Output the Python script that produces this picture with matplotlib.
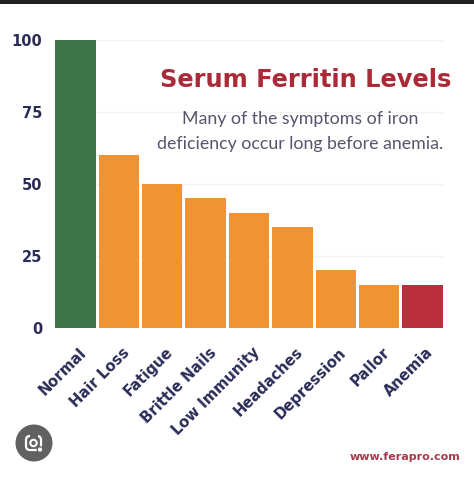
import matplotlib
matplotlib.use("Agg")
import matplotlib.pyplot as plt
from matplotlib.patches import Rectangle, Circle, FancyBboxPatch
from matplotlib.transforms import ScaledTranslation

categories = ["Normal", "Hair Loss", "Fatigue", "Brittle Nails", "Low Immunity",
              "Headaches", "Depression", "Pallor", "Anemia"]
values = [100, 60, 50, 45, 40, 35, 20, 15, 15]
colors = ["#3d7549", "#ef9333", "#ef9333", "#ef9333", "#ef9333",
          "#ef9333", "#ef9333", "#ef9333", "#bb2f3d"]
yticks = [0, 25, 50, 75, 100]
W, H = 474, 478
NAVY = "#2a2c58"

plt.rcParams["font.family"] = ["Lato", "DejaVu Sans"]
fig = plt.figure(figsize=(W / 100, H / 100), dpi=100, facecolor="white")
ax = fig.add_axes([55 / W, 1 - 328 / H, 388 / W, 288 / H])
ax.set_xlim(-0.47, 8.47)
ax.set_ylim(0, 100)
ax.set_axisbelow(True)
ax.yaxis.grid(True, color="#f3f3f5", linewidth=1)
ax.xaxis.grid(False)
for s in ax.spines.values():
    s.set_visible(False)
ax.bar(range(len(values)), values, width=0.93, color=colors)
ax.set_yticks(yticks)
ax.set_yticklabels([str(v) for v in yticks], fontsize=10.5, fontweight="bold",
                   color=NAVY, family="DejaVu Sans")
ax.set_xticks(range(len(categories)))
ax.set_xticklabels(categories, rotation=45, ha="right", rotation_mode="anchor",
                   fontsize=10.6, fontweight="bold", color=NAVY, family="DejaVu Sans")
ax.tick_params(axis="both", length=0)
ax.tick_params(axis="y", pad=9)
ax.tick_params(axis="x", pad=12)
shift = ScaledTranslation(3 / 100, 0, fig.dpi_scale_trans)
for lab in ax.get_xticklabels():
    lab.set_transform(lab.get_transform() + shift)

fig.text(305.5 / W, 1 - 80 / H, "Serum Ferritin Levels", fontsize=17.4, fontweight="bold",
         color="#aa2a38", ha="center", va="center", family="DejaVu Sans")
fig.text(300 / W, 1 - 119 / H, "Many of the symptoms of iron", fontsize=12.8,
         color="#55566e", ha="center", va="center")
fig.text(300 / W, 1 - 144 / H, "deficiency occur long before anemia.", fontsize=12.8,
         color="#55566e", ha="center", va="center")
fig.text(460 / W, 1 - 457 / H, "www.ferapro.com", fontsize=8, fontweight="bold",
         color="#a83a4c", ha="right", va="center", family="DejaVu Sans")

ov = fig.add_axes([0, 0, 1, 1], facecolor="none")
ov.set_xlim(0, W)
ov.set_ylim(H, 0)
ov.axis("off")
ov.add_patch(Rectangle((0, 0), W, 4, color="#222222", lw=0))
ov.add_patch(Circle((34, 443), 18.5, color="#616161", lw=0))
ov.add_patch(FancyBboxPatch((26, 436), 15, 14, boxstyle="round,pad=0,rounding_size=4",
                            fc="none", ec="white", lw=1.6))
ov.add_patch(Rectangle((30, 433), 8, 5, color="#616161", lw=0))
ov.add_patch(Circle((33.5, 443), 3.2, fc="#616161", ec="white", lw=1.5))
ov.add_patch(Circle((40, 449.5), 3.4, color="#616161", lw=0))
ov.add_patch(Circle((40, 449.5), 2.1, color="white", lw=0))
fig.savefig("out.png", dpi=100, facecolor="white")
